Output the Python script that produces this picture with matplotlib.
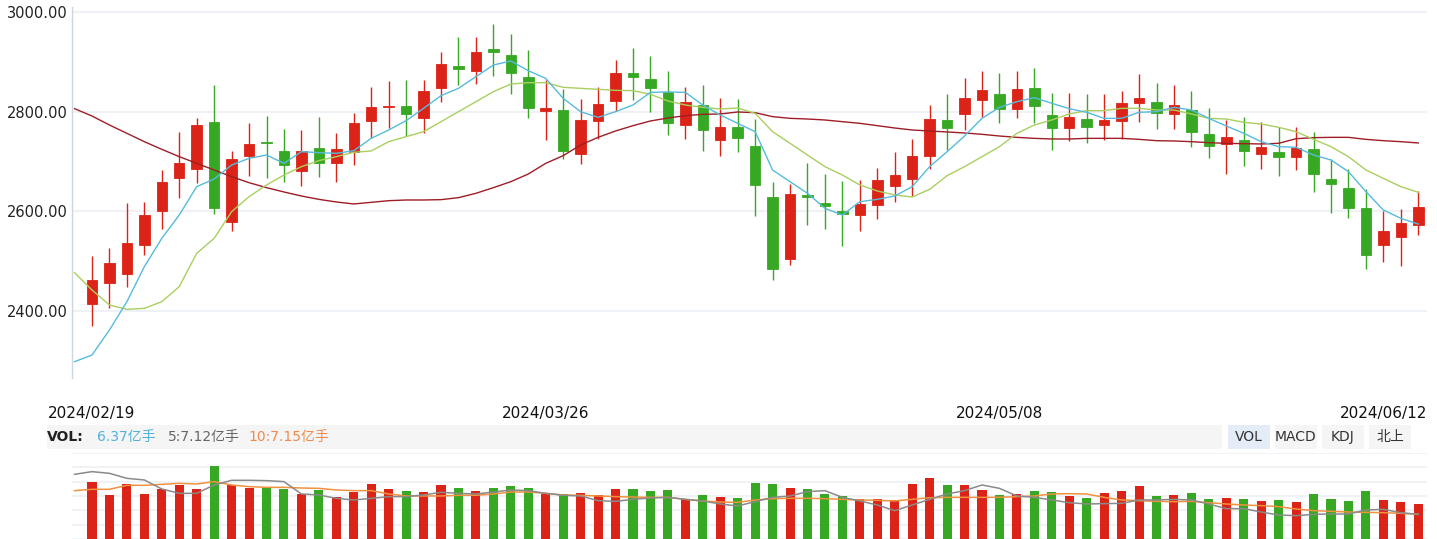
import matplotlib
matplotlib.use('Agg')
import matplotlib.pyplot as plt
import matplotlib.transforms as mtransforms
from matplotlib.patches import Rectangle
import numpy as np

plt.rcParams['font.family'] = ['DejaVu Sans', 'Noto Sans CJK SC']

# ---------------- data ----------------
dates = (['2024/02/%02d' % d for d in [19, 20, 21, 22, 23, 26, 27, 28, 29]] +
         ['2024/03/%02d' % d for d in [1, 4, 5, 6, 7, 8, 11, 12, 13, 14, 15, 18, 19, 20, 21, 22, 25, 26, 27, 28, 29]] +
         ['2024/04/%02d' % d for d in [1, 2, 3, 8, 9, 10, 11, 12, 15, 16, 17, 18, 19, 22, 23, 24, 25, 26, 29, 30]] +
         ['2024/05/%02d' % d for d in [6, 7, 8, 9, 10, 13, 14, 15, 16, 17, 20, 21, 22, 23, 24, 27, 28, 29, 30, 31]] +
         ['2024/06/%02d' % d for d in [3, 4, 5, 6, 7, 11, 12]])
label_dates = ['2024/02/19', '2024/03/26', '2024/05/08', '2024/06/12']

opens = [2413.1, 2456.6, 2474.7, 2533.0, 2601.4, 2667.7, 2685.8, 2779.6, 2579.2, 2711.9,
         2739.4, 2721.3, 2681.8, 2727.3, 2696.5, 2719.9, 2782.3, 2809.0, 2811.7, 2788.3,
         2848.6, 2892.1, 2882.7, 2926.3, 2914.2, 2870.0, 2802.4, 2803.7, 2715.9, 2782.3,
         2822.5, 2878.0, 2866.0, 2839.2, 2774.2, 2813.7, 2744.0, 2769.5, 2731.3, 2628.8,
         2504.9, 2632.2, 2616.8, 2600.7, 2593.3, 2613.4, 2651.6, 2665.7, 2711.9, 2783.6,
         2796.3, 2824.5, 2835.9, 2806.4, 2847.9, 2793.6, 2768.2, 2785.6, 2774.2, 2782.3,
         2818.4, 2819.8, 2796.3, 2803.7, 2755.5, 2736.0, 2743.4, 2715.9, 2719.3, 2709.9,
         2725.3, 2665.0, 2646.9, 2606.7, 2533.0, 2549.1, 2573.2]
closes = [2462.0, 2496.2, 2536.4, 2592.6, 2659.0, 2697.8, 2773.5, 2607.4, 2705.2, 2735.4,
          2738.0, 2693.8, 2721.3, 2696.5, 2725.3, 2777.6, 2809.7, 2811.0, 2796.3, 2841.9,
          2896.2, 2886.8, 2920.3, 2920.9, 2878.7, 2808.4, 2807.7, 2721.9, 2783.6, 2815.8,
          2878.0 + 0.0, 2870.7, 2848.6, 2778.2, 2819.8, 2764.2, 2769.5, 2748.1, 2653.6, 2484.8,
          2634.9, 2629.5, 2611.4, 2595.3, 2614.8, 2663.0, 2673.0, 2711.2, 2785.6, 2768.2,
          2827.8, 2843.9, 2806.4, 2845.9, 2811.7, 2768.2, 2789.6, 2770.2, 2783.6, 2817.8,
          2827.8, 2798.3, 2813.7, 2760.1, 2732.0, 2749.4, 2721.9, 2729.3, 2709.9, 2727.3,
          2675.7, 2655.6, 2607.4, 2512.9, 2560.5, 2576.6, 2608.7]
highs = [2510.0, 2526.3, 2617.4, 2618.8, 2683.1, 2759.5, 2787.6, 2853.9, 2721.3, 2777.6,
         2791.6, 2765.5, 2763.5, 2789.6, 2757.5, 2797.7, 2850.0, 2862.0, 2864.0, 2864.0,
         2920.3, 2950.4, 2950.4, 2976.5, 2956.4, 2924.3, 2864.0, 2845.9, 2825.8, 2850.0,
         2904.2, 2928.3, 2912.2, 2882.0, 2850.0, 2853.9, 2827.8, 2825.8, 2785.6, 2659.0,
         2654.9, 2697.2, 2675.0, 2661.0, 2663.0, 2687.1, 2719.3, 2745.4, 2813.7, 2835.9,
         2868.0, 2882.0, 2878.0, 2882.0, 2888.1, 2837.9, 2837.9, 2835.9, 2835.9, 2841.9,
         2876.0, 2858.0, 2853.9, 2841.9, 2807.7, 2783.6, 2789.6, 2779.6, 2769.5, 2769.5,
         2759.5, 2705.2, 2685.1, 2644.9, 2601.4, 2604.7, 2640.9]
lows = [2370.0, 2406.4, 2448.6, 2512.9, 2564.5, 2627.5, 2657.0, 2595.3, 2561.0, 2671.7,
        2667.7, 2659.6, 2651.6, 2669.7, 2659.6, 2693.8, 2747.4, 2766.8, 2750.8, 2756.8,
        2820.4, 2853.9, 2856.6, 2872.0, 2836.5, 2788.3, 2744.0, 2705.9, 2695.8, 2744.7,
        2801.7, 2824.5, 2799.7, 2754.1, 2746.0, 2721.9, 2711.9, 2719.9, 2591.3, 2462.7,
        2492.8, 2573.2, 2565.2, 2531.0, 2561.0, 2585.3, 2619.4, 2631.5, 2685.8, 2723.3,
        2763.5, 2789.6, 2777.6, 2787.6, 2777.6, 2723.3, 2742.0, 2738.0, 2744.0, 2746.0,
        2779.6, 2766.2, 2766.2, 2730.0, 2707.9, 2675.7, 2691.8, 2685.8, 2671.7, 2683.8,
        2639.5, 2597.3, 2587.3, 2484.8, 2498.8, 2490.8, 2553.1]

# moving averages, first value belongs to the session before the window
ma5 = [2297.8, 2311.2, 2361.5, 2418.4, 2488.8, 2545.7, 2592.6, 2649.6, 2665.0, 2693.1, 2706.5,
       2713.2, 2696.5, 2719.9, 2717.9, 2716.6, 2721.9, 2746.7, 2763.5, 2782.3, 2807.0,
       2832.5, 2847.2, 2870.7, 2894.1, 2902.2, 2882.7, 2867.3, 2827.1, 2800.3, 2788.9,
       2800.3, 2813.7, 2839.2, 2839.9, 2839.2, 2813.7, 2793.6, 2776.9, 2760.1, 2683.1,
       2659.6, 2636.2, 2606.0, 2592.6, 2619.4, 2624.1, 2630.8, 2649.6, 2689.8, 2719.9,
       2751.4, 2786.9, 2809.0, 2820.4, 2828.5, 2817.1, 2806.4, 2799.0, 2786.9, 2786.9,
       2799.0, 2800.3, 2809.0, 2803.7, 2786.9, 2771.5, 2756.8, 2740.0, 2730.0, 2728.7,
       2713.2, 2703.2, 2679.7, 2639.5, 2602.7, 2585.9, 2574.5]
ma10 = [2476.7, 2441.9, 2411.7, 2403.0, 2405.0, 2418.4, 2448.6, 2515.6, 2545.7, 2599.3, 2629.5,
        2652.9, 2673.0, 2689.8, 2701.9, 2709.9, 2718.6, 2721.3, 2740.0, 2750.1, 2760.1,
        2780.2, 2800.3, 2820.4, 2840.5, 2855.9, 2858.6, 2858.6, 2849.3, 2847.2, 2845.2,
        2843.2, 2842.6, 2835.2, 2821.8, 2813.7, 2809.0, 2805.7, 2807.7, 2797.0, 2760.1,
        2736.7, 2713.2, 2689.8, 2673.0, 2652.9, 2640.9, 2632.8, 2628.8, 2644.2, 2671.7,
        2689.8, 2709.9, 2730.0, 2756.8, 2773.5, 2783.6, 2795.7, 2802.4, 2802.4, 2807.0,
        2807.0, 2803.7, 2803.7, 2795.7, 2786.9, 2785.6, 2778.9, 2775.5, 2768.9, 2760.1,
        2744.7, 2730.0, 2709.9, 2683.1, 2666.3, 2649.6, 2638.2]
ma60 = [2806.4, 2791.6, 2773.5, 2756.8, 2740.0, 2724.6, 2709.9, 2696.5, 2683.1, 2669.7, 2657.6,
        2647.6, 2638.9, 2630.8, 2624.1, 2618.8, 2614.8, 2618.1, 2621.4, 2622.8, 2622.8,
        2623.5, 2627.5, 2636.2, 2647.6, 2659.6, 2675.0, 2696.5, 2711.9, 2733.3, 2748.7,
        2761.5, 2772.2, 2781.6, 2787.6, 2792.3, 2795.0, 2795.7, 2799.7, 2798.3, 2790.3,
        2786.9, 2785.6, 2783.6, 2780.2, 2776.9, 2772.2, 2767.5, 2763.5, 2761.5, 2759.5,
        2757.5, 2754.8, 2751.4, 2748.7, 2746.7, 2745.4, 2745.4, 2746.7, 2746.7, 2746.7,
        2744.7, 2742.0, 2741.4, 2740.0, 2738.0, 2736.7, 2736.0, 2735.4, 2736.7, 2746.0,
        2748.1, 2748.7, 2748.7, 2744.7, 2742.0, 2740.0, 2737.4]

# volume in 亿手
volumes = [10.37, 8.01, 10.01, 8.19, 9.10, 9.83, 9.10, 13.29, 9.83, 9.28,
           9.28, 9.10, 8.19, 8.92, 7.64, 8.55, 10.01, 9.10, 8.74, 8.55,
           9.83, 9.28, 8.74, 9.28, 9.65, 9.28, 8.19, 8.19, 8.37, 8.01,
           9.10, 9.10, 8.74, 8.92, 7.28, 8.01, 7.64, 7.46, 10.19, 10.01,
           9.28, 9.10, 8.19, 7.83, 7.28, 7.28, 7.10, 10.01, 11.10, 9.83,
           9.83, 8.92, 8.01, 8.19, 8.74, 8.55, 7.83, 7.46, 8.37, 8.74,
           9.65, 7.83, 8.01, 8.37, 7.28, 7.46, 7.28, 6.92, 7.10, 6.73,
           8.19, 7.28, 6.92, 8.74, 7.10, 6.73, 6.37]
vol_ma5 = [11.77, 12.26, 11.95, 11.04, 10.74, 9.10, 8.31, 8.31, 9.83, 10.68, 10.68,
           10.62, 10.44, 8.19, 8.01, 7.40, 7.10, 7.40, 7.71, 7.71, 8.01,
           8.49, 8.31, 8.19, 8.55, 8.92, 8.80, 8.31, 7.95, 7.83, 6.98,
           6.85, 7.22, 7.46, 7.58, 7.22, 6.92, 6.37, 6.01, 6.80, 7.58,
           7.83, 8.62, 8.80, 7.58, 6.92, 6.19, 5.16, 6.19, 7.22, 8.19,
           8.80, 9.83, 9.22, 7.83, 7.58, 7.10, 6.61, 6.37, 6.43, 6.49,
           7.10, 7.10, 7.22, 7.10, 6.37, 5.52, 5.52, 4.91, 4.37, 4.25,
           4.49, 4.55, 4.55, 5.28, 5.40, 4.79, 4.49]
vol_ma10 = [8.80, 9.04, 9.04, 9.77, 9.77, 9.95, 10.13, 10.01, 10.44, 9.83, 9.53,
            9.40, 9.40, 9.28, 9.22, 8.92, 8.80, 8.80, 8.19, 7.83, 7.83,
            7.83, 7.95, 7.95, 8.19, 8.55, 8.55, 8.31, 8.01, 7.95, 7.83,
            7.71, 7.64, 7.58, 7.58, 7.22, 6.92, 6.73, 6.67, 7.10, 7.34,
            7.40, 7.40, 7.34, 7.22, 7.10, 7.04, 6.92, 7.22, 7.52, 7.58,
            7.58, 7.58, 7.58, 7.71, 7.83, 8.19, 8.25, 8.19, 7.58, 7.10,
            6.98, 6.85, 6.79, 6.85, 6.61, 6.37, 6.19, 6.07, 5.89, 5.46,
            5.16, 5.04, 4.91, 4.85, 4.79, 4.67, 4.49]

price_ticks = [2400, 2600, 2800, 3000]
vol_header = ['6.37亿手', '5:7.12亿手', '10:7.15亿手']
buttons = ['VOL', 'MACD', 'KDJ', '北上']

# ---------------- style ----------------
RED = '#dc2317'
GREEN = '#36a823'
C_MA5 = '#56bbdd'
C_MA10 = '#a9cf5f'
C_MA60 = '#9e1d26'
GRID = '#eef1f5'

W, H = 1437, 539
fig = plt.figure(figsize=(W / 100, H / 100), dpi=100)
fig.patch.set_facecolor('white')


def box(l, t, r, b):
    return [l / W, 1 - b / H, (r - l) / W, (b - t) / H]


def fx(px):
    return px / W


def fy(py):
    return 1 - py / H


o = np.array(opens)
c = np.array(closes)
hi = np.array(highs)
lo = np.array(lows)
n = len(o)
x = np.arange(n)
cols = np.where(c >= o, RED, GREEN)
x_ma = np.arange(-1, n)
XL = (-1.146, 76.5)

# ---------------- price panel ----------------
ax = fig.add_axes(box(72, 7, 1427, 378))
ax.set_xlim(*XL)
ax.set_ylim(2265, 3010.7)
for s in ['top', 'right', 'bottom']:
    ax.spines[s].set_visible(False)
ax.spines['left'].set_color('#cdd6e0')
ax.spines['left'].set_linewidth(1.0)
ax.set_yticks(price_ticks)
ax.set_yticklabels(['%.2f' % v for v in price_ticks], fontsize=10.5, color='#222222')
ax.tick_params(axis='y', length=0, pad=3)
ax.set_xticks([])
ax.grid(axis='y', color=GRID, lw=1.5)
ax.set_axisbelow(True)

ax.vlines(x, lo, hi, colors=cols, lw=1.0, zorder=2)
ax.bar(x, np.abs(c - o), bottom=np.minimum(o, c), width=0.6, color=cols,
       edgecolor=cols, lw=0.6, zorder=3)
ax.plot(x_ma, ma60, color=C_MA60, lw=1.0, zorder=4)
ax.plot(x_ma, ma10, color=C_MA10, lw=1.0, zorder=4)
ax.plot(x_ma, ma5, color=C_MA5, lw=1.0, zorder=4)

# date labels
tr = mtransforms.blended_transform_factory(ax.transData, fig.transFigure)
for i, lab in enumerate(label_dates):
    idx = dates.index(lab)
    if i == len(label_dates) - 1:
        ax.text(1.0, fy(413.5), lab, transform=mtransforms.blended_transform_factory(ax.transAxes, fig.transFigure),
                ha='right', va='center', fontsize=11, color='#111111')
    else:
        ax.text(idx, fy(413.5), lab, transform=tr, ha='center', va='center',
                fontsize=11, color='#111111', clip_on=False)

# ---------------- header row ----------------
fig.add_artist(Rectangle((fx(47), fy(449)), (1222 - 47) / W, 24 / H,
                         transform=fig.transFigure, color='#f5f5f5', lw=0, zorder=0))
fig.text(fx(47), fy(437), 'VOL:', fontsize=10, fontweight='bold', color='#222222', va='center', ha='left')
for txt, px, col in zip(vol_header, [97, 168, 248], ['#4fb3d9', '#666666', '#f08a4b']):
    fig.text(fx(px), fy(437), txt, fontsize=10, color=col, va='center', ha='left')

btn_x = [(1228, 1270), (1275, 1317), (1322, 1364), (1369, 1411)]
for lab, (l, r) in zip(buttons, btn_x):
    fc = '#e3ecf7' if lab == 'VOL' else '#f5f5f5'
    fig.add_artist(Rectangle((fx(l), fy(449)), (r - l) / W, 24 / H,
                             transform=fig.transFigure, color=fc, lw=0, zorder=0))
    fig.text(fx((l + r) / 2), fy(437), lab, fontsize=10, color='#333333', va='center', ha='center')

# ---------------- volume panel ----------------
axv = fig.add_axes(box(72, 453, 1427, 539))
axv.set_xlim(*XL)
vmax = 15.65
axv.set_ylim(0, vmax)
for s in axv.spines.values():
    s.set_visible(False)
axv.set_xticks([])
axv.set_yticks(np.linspace(0, vmax, 7))
axv.set_yticklabels([])
axv.tick_params(axis='y', length=0)
axv.grid(axis='y', color=GRID, lw=1.2)
axv.set_axisbelow(True)
axv.bar(x, volumes, width=0.52, color=cols, lw=0, zorder=2)
axv.plot(x_ma, vol_ma10, color='#f0913f', lw=1.1, zorder=3)
axv.plot(x_ma, vol_ma5, color='#8a8a8a', lw=1.1, zorder=3)

fig.savefig('out.png', dpi=100, facecolor='white')
